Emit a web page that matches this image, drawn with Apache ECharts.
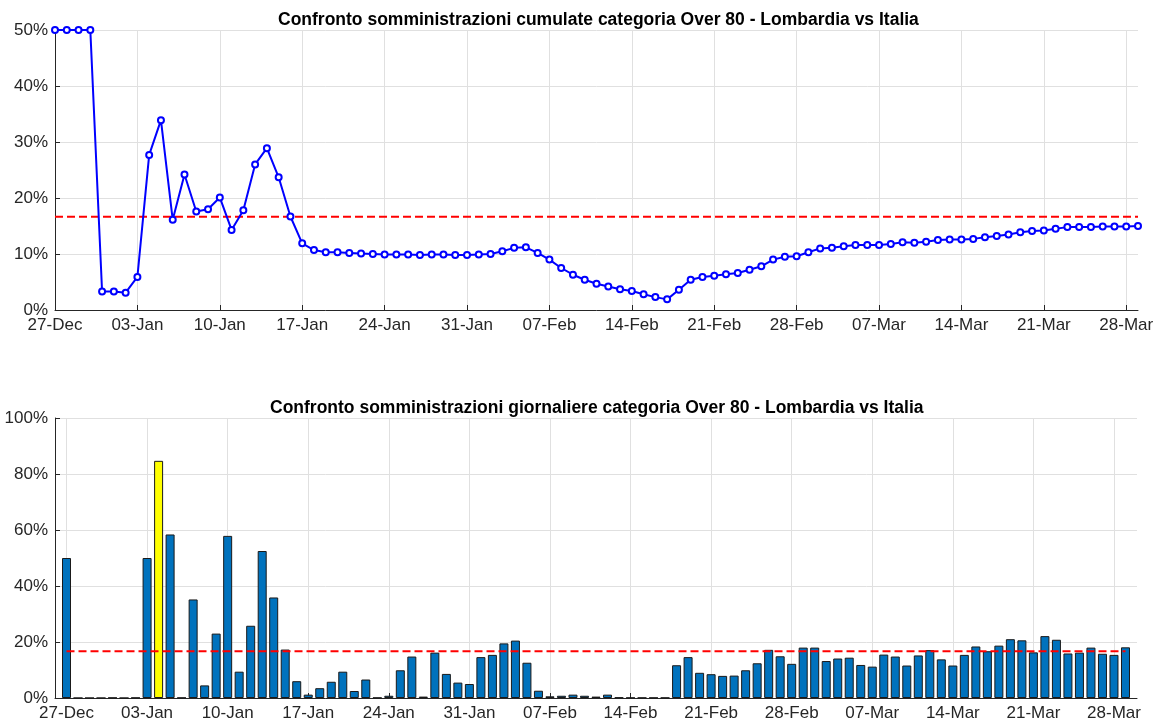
<!DOCTYPE html>
<html>
<head>
<meta charset="utf-8">
<script src="https://cdn.jsdelivr.net/npm/echarts@6/dist/echarts.min.js"></script>
<style>
html,body{margin:0;padding:0;background:#fff;}
#chart{width:1159px;height:726px;}
</style>
</head>
<body>
<div id="chart"></div>
<script>
// ---- Data ----
const startDate = Date.UTC(2020, 11, 27); // 27-Dec-2020
const monthNames = ['Jan','Feb','Mar','Apr','May','Jun','Jul','Aug','Sep','Oct','Nov','Dec'];
function dayLabel(offset) {
  const d = new Date(startDate + offset * 86400000);
  return String(d.getUTCDate()).padStart(2, '0') + '-' + monthNames[d.getUTCMonth()];
}

// cumulative share Lombardia / Italia (%), 27-Dec .. 29-Mar
const cumulative = [
  50, 50, 50, 50, 3.3, 3.3, 3.1, 5.9, 27.7, 33.9, 16.1, 24.2, 17.6, 18.0, 20.1, 14.3,
  17.8, 26.0, 28.9, 23.7, 16.7, 11.9, 10.7, 10.3, 10.3, 10.2, 10.1, 10.0, 9.9, 9.9,
  9.9, 9.8, 9.9, 9.9, 9.8, 9.8, 9.9, 10.0, 10.5, 11.1, 11.2, 10.2, 9.0, 7.5, 6.3, 5.4,
  4.7, 4.2, 3.7, 3.4, 2.8, 2.3, 1.9, 3.6, 5.4, 5.9, 6.1, 6.4, 6.6, 7.2, 7.8, 9.0,
  9.5, 9.6, 10.3, 11.0, 11.1, 11.4, 11.6, 11.6, 11.6, 11.8, 12.1, 12.0, 12.2, 12.5,
  12.6, 12.6, 12.7, 13.0, 13.2, 13.5, 13.9, 14.1, 14.2, 14.5, 14.8, 14.8, 14.8, 14.9,
  14.9, 14.9, 15.0
];

// daily share Lombardia / Italia (%), 27-Dec .. 29-Mar
const daily = [
  50, 0, 0, 0, 0.1, 0, 0.1, 50, 84.7, 58.4, 0.1, 35.2, 4.5, 23.0, 57.9, 9.4,
  25.8, 52.5, 35.9, 17.3, 6.0, 1.2, 3.5, 5.8, 9.4, 2.5, 6.6, 0.1, 0.8, 9.9,
  14.8, 0.5, 16.2, 8.6, 5.5, 5.0, 14.6, 15.4, 19.5, 20.5, 12.6, 2.6, 0.6, 0.8,
  1.2, 0.8, 0.5, 1.2, 0.2, 0.1, 0.1, 0.1, 0.1, 11.7, 14.6, 9.0, 8.5, 7.9, 8.0,
  9.9, 12.4, 17.2, 14.9, 12.2, 18.0, 18.0, 13.2, 14.1, 14.4, 11.8, 11.2, 15.5,
  14.8, 11.6, 15.2, 17.1, 13.8, 11.6, 15.4, 18.4, 16.7, 18.7, 21.0, 20.6, 16.3,
  22.1, 20.8, 15.9, 16.2, 18.0, 15.8, 15.4, 18.1
];
const highlightIndex = 8; // 04-Jan (yellow bar)
const reference = 16.67;  // Over 80 population share (dashed red)

const topTitle = 'Confronto somministrazioni cumulate categoria Over 80 - Lombardia vs Italia';
const bottomTitle = 'Confronto somministrazioni giornaliere categoria Over 80 - Lombardia vs Italia';

// ---- Build axes ----
const topCats = cumulative.map((_, i) => dayLabel(i));
// bottom axis padded by one day on each side (26-Dec .. 30-Mar)
const botCats = [dayLabel(-1)].concat(daily.map((_, i) => dayLabel(i)), [dayLabel(daily.length)]);
const botBars = [null].concat(daily.map((v, i) => i === highlightIndex
  ? { value: v, itemStyle: { color: '#ffff00' } } : v), [null]);
const botRef = [null].concat(daily.map(() => reference), [null]);
const topRef = cumulative.map(() => reference);

const FONT = 'Liberation Sans, Arial, Helvetica, sans-serif';
const txt = '#262626';
const gridLine = { show: true, lineStyle: { color: '#e0e0e0', width: 1 } };
const axLine = { show: true, lineStyle: { color: txt, width: 1 } };
const LBL = 17;

const chart = echarts.init(document.getElementById('chart'), null, { renderer: 'canvas' });
chart.setOption({
  animation: false,
  backgroundColor: '#ffffff',
  title: [
    { text: topTitle, left: 273, top: 6, textStyle: { fontFamily: FONT, fontSize: 17.5, fontWeight: 'bold', color: '#000' } },
    { text: bottomTitle, left: 265, top: 394, textStyle: { fontFamily: FONT, fontSize: 17.5, fontWeight: 'bold', color: '#000' } }
  ],
  grid: [
    { left: 55, right: 21, top: 30, height: 280 },
    { left: 55, right: 22, top: 418, height: 280 }
  ],
  xAxis: [
    {
      type: 'category', gridIndex: 0, data: topCats, boundaryGap: false,
      axisLine: axLine,
      axisTick: { show: true, inside: true, length: 5, interval: 6, lineStyle: { color: txt } },
      axisLabel: { interval: 6, color: txt, fontFamily: FONT, fontSize: LBL, margin: 7 },
      splitLine: Object.assign({ interval: 6 }, gridLine)
    },
    {
      type: 'category', gridIndex: 1, data: botCats, boundaryGap: false,
      axisLine: axLine,
      axisTick: { show: true, inside: true, length: 5, interval: (i) => i % 7 === 1, lineStyle: { color: txt } },
      axisLabel: { interval: (i) => i % 7 === 1, color: txt, fontFamily: FONT, fontSize: LBL, margin: 7 },
      splitLine: Object.assign({ interval: (i) => i % 7 === 1 }, gridLine)
    }
  ],
  yAxis: [
    {
      type: 'value', gridIndex: 0, min: 0, max: 50, interval: 10,
      axisLine: axLine,
      axisTick: { show: true, inside: true, length: 5, lineStyle: { color: txt } },
      axisLabel: { formatter: '{value}%', color: txt, fontFamily: FONT, fontSize: LBL, margin: 7 },
      splitLine: gridLine
    },
    {
      type: 'value', gridIndex: 1, min: 0, max: 100, interval: 20,
      axisLine: axLine,
      axisTick: { show: true, inside: true, length: 5, lineStyle: { color: txt } },
      axisLabel: { formatter: '{value}%', color: txt, fontFamily: FONT, fontSize: LBL, margin: 7 },
      splitLine: gridLine
    }
  ],
  series: [
    {
      type: 'line', xAxisIndex: 0, yAxisIndex: 0, data: cumulative,
      symbol: 'emptyCircle', symbolSize: 6, showAllSymbol: true,
      lineStyle: { color: '#0000ff', width: 2 },
      itemStyle: { color: '#0000ff', borderColor: '#0000ff', borderWidth: 1.5 },
      z: 3
    },
    {
      type: 'line', xAxisIndex: 0, yAxisIndex: 0, data: topRef, symbol: 'none',
      lineStyle: { color: '#ff0000', width: 2, type: [8, 4] }, z: 2
    },
    {
      type: 'bar', xAxisIndex: 1, yAxisIndex: 1, data: botBars, barWidth: 9,
      itemStyle: { color: '#0072bd', borderColor: '#1a1a1a', borderWidth: 1 }
    },
    {
      type: 'line', xAxisIndex: 1, yAxisIndex: 1, data: botRef, symbol: 'none',
      lineStyle: { color: '#ff0000', width: 2, type: [8, 4] }, z: 4
    }
  ]
});
</script>
</body>
</html>
